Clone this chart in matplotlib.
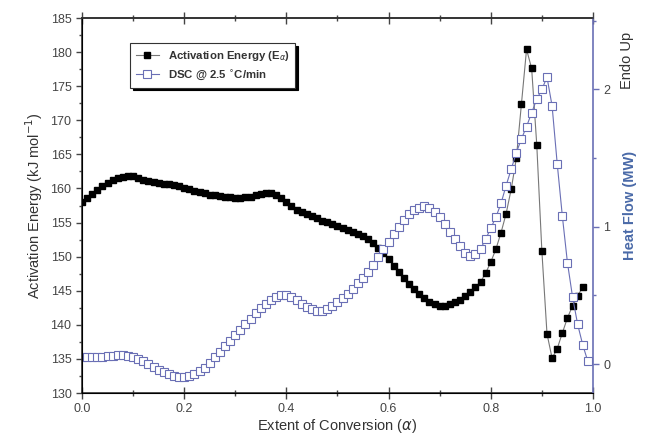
import numpy as np
import matplotlib
matplotlib.use('Agg')
import matplotlib.pyplot as plt
from matplotlib.ticker import MultipleLocator

plt.rcParams['font.family'] = ['Liberation Sans', 'DejaVu Sans']

# activation energy (kJ/mol), alpha = 0.00 ... 0.98 step 0.01
alpha_e = np.round(np.arange(0, 99) * 0.01, 2)
energy = [
    158.0, 158.6, 159.2, 159.8, 160.3, 160.8, 161.2, 161.5, 161.7, 161.8,
    161.8, 161.6, 161.3, 161.1, 160.9, 160.8, 160.7, 160.6, 160.5, 160.3,
    160.1, 159.9, 159.7, 159.5, 159.3, 159.1, 159.0, 158.9, 158.8, 158.7,
    158.6, 158.6, 158.7, 158.8, 159.0, 159.2, 159.3, 159.3, 159.1, 158.6,
    158.0, 157.4, 156.9, 156.5, 156.2, 155.9, 155.6, 155.3, 155.1, 154.8,
    154.5, 154.2, 153.9, 153.6, 153.3, 153.0, 152.6, 152.0, 151.3, 150.5,
    149.7, 148.7, 147.8, 146.9, 146.0, 145.2, 144.5, 143.9, 143.3, 143.0,
    142.8, 142.8, 143.0, 143.3, 143.7, 144.2, 144.8, 145.5, 146.3, 147.6,
    149.2, 151.1, 153.5, 156.3, 159.9, 164.4, 172.4, 180.4, 177.6, 166.4,
    150.8, 138.7, 135.1, 136.5, 138.8, 141.0, 142.8, 144.3, 145.5,
]

# DSC heat flow, alpha = 0.00 ... 0.99 step 0.01
alpha_d = np.round(np.arange(0, 100) * 0.01, 2)
heat_flow = [
    0.05, 0.05, 0.05, 0.05, 0.055, 0.06, 0.06, 0.065, 0.065, 0.06,
    0.055, 0.04, 0.02, 0.0, -0.02, -0.04, -0.06, -0.075, -0.085, -0.09,
    -0.09, -0.085, -0.07, -0.05, -0.025, 0.01, 0.05, 0.09, 0.13, 0.17,
    0.21, 0.25, 0.29, 0.33, 0.37, 0.41, 0.44, 0.47, 0.49, 0.50,
    0.50, 0.49, 0.47, 0.44, 0.415, 0.40, 0.39, 0.39, 0.40, 0.42,
    0.45, 0.48, 0.51, 0.55, 0.59, 0.63, 0.67, 0.72, 0.78, 0.84,
    0.89, 0.95, 1.00, 1.05, 1.09, 1.12, 1.14, 1.15, 1.14, 1.11,
    1.07, 1.02, 0.96, 0.91, 0.86, 0.81, 0.79, 0.80, 0.84, 0.91,
    0.99, 1.07, 1.17, 1.30, 1.42, 1.54, 1.64, 1.73, 1.83, 1.93,
    2.00, 2.09, 1.88, 1.46, 1.08, 0.74, 0.49, 0.29, 0.14, 0.02,
]

blue = '#6a6fb5'
label_col = '#333333'

fig = plt.figure(figsize=(6.47, 4.46), dpi=100)
ax = fig.add_axes([0.1267, 0.1188, 0.7898, 0.8408])
ax2 = ax.twinx()

l1, = ax.plot(alpha_e, energy, color='#777777', lw=0.8, marker='s', ms=5,
              mfc='black', mec='black', label=r'Activation Energy (E$_{\alpha}$)')
l2, = ax2.plot(alpha_d, heat_flow, color=blue, lw=0.8, marker='s', ms=5.2,
               mfc='white', mec=blue, mew=0.8, label=r'DSC @ 2.5 $^{\circ}$C/min')

ax.set_xlim(0, 1.0)
ax.set_ylim(130, 185)
ax2.set_ylim(-0.21, 2.52)

ax.xaxis.set_major_locator(MultipleLocator(0.2))
ax.xaxis.set_minor_locator(MultipleLocator(0.1))
ax.yaxis.set_major_locator(MultipleLocator(5))
ax.yaxis.set_minor_locator(MultipleLocator(2.5))
ax2.yaxis.set_major_locator(MultipleLocator(1))
ax2.yaxis.set_minor_locator(MultipleLocator(0.5))
ax.xaxis.set_major_formatter(plt.FuncFormatter(lambda v, p: f'{v:.1f}'))

# left axis: outward ticks; x axis: ticks on bottom and top (top unlabeled)
ax.tick_params(axis='y', which='both', direction='out', colors='#444444',
               labelsize=9)
ax.tick_params(axis='y', which='major', length=4, width=1)
ax.tick_params(axis='y', which='minor', length=2.5, width=1)
ax.tick_params(axis='x', which='both', direction='inout', top=True,
               labeltop=False, colors='#444444', labelsize=9)
ax.tick_params(axis='x', which='major', length=8, width=1)
ax.tick_params(axis='x', which='minor', length=5, width=1)

ax2.tick_params(axis='y', which='both', direction='out', colors=blue,
                labelcolor='#444444', labelsize=9)
ax2.tick_params(axis='y', which='major', length=4, width=1)
ax2.tick_params(axis='y', which='minor', length=2.5, width=1)

for s in ['left', 'bottom', 'top']:
    ax.spines[s].set_color('#333333')
    ax.spines[s].set_linewidth(1.2)
ax2.spines['top'].set_color('#333333')
ax2.spines['top'].set_linewidth(1.2)
ax2.spines['right'].set_color(blue)
ax2.spines['right'].set_linewidth(1.2)
ax.spines['right'].set_visible(False)

ax.set_xlabel(r'Extent of Conversion ($\alpha$)', fontsize=10.5, color=label_col,
              labelpad=1)
ax.set_ylabel(r'Activation Energy (kJ mol$^{-1}$)', fontsize=10.5, color=label_col,
              labelpad=4)
ax2.set_ylabel('Heat Flow (MW)', fontsize=10.5, color='#4a6aa8',
               fontweight='bold', labelpad=9)
fig.text(0.969, 0.865, 'Endo Up', rotation=90, fontsize=10.5, color=label_col,
         ha='center', va='center')

leg = ax2.legend(handles=[l1, l2], loc='upper left', bbox_to_anchor=(0.083, 0.948),
                 fontsize=8.2, frameon=True, fancybox=False, borderpad=0.5,
                 handlelength=2.0, labelspacing=0.5,
                 shadow={'color': 'black', 'alpha': 1})
leg.get_frame().set_edgecolor('#333333')
leg.get_frame().set_linewidth(0.8)
for t in leg.get_texts():
    t.set_fontweight('bold')
    t.set_color('#333333')

fig.savefig('out.png', dpi=100)
